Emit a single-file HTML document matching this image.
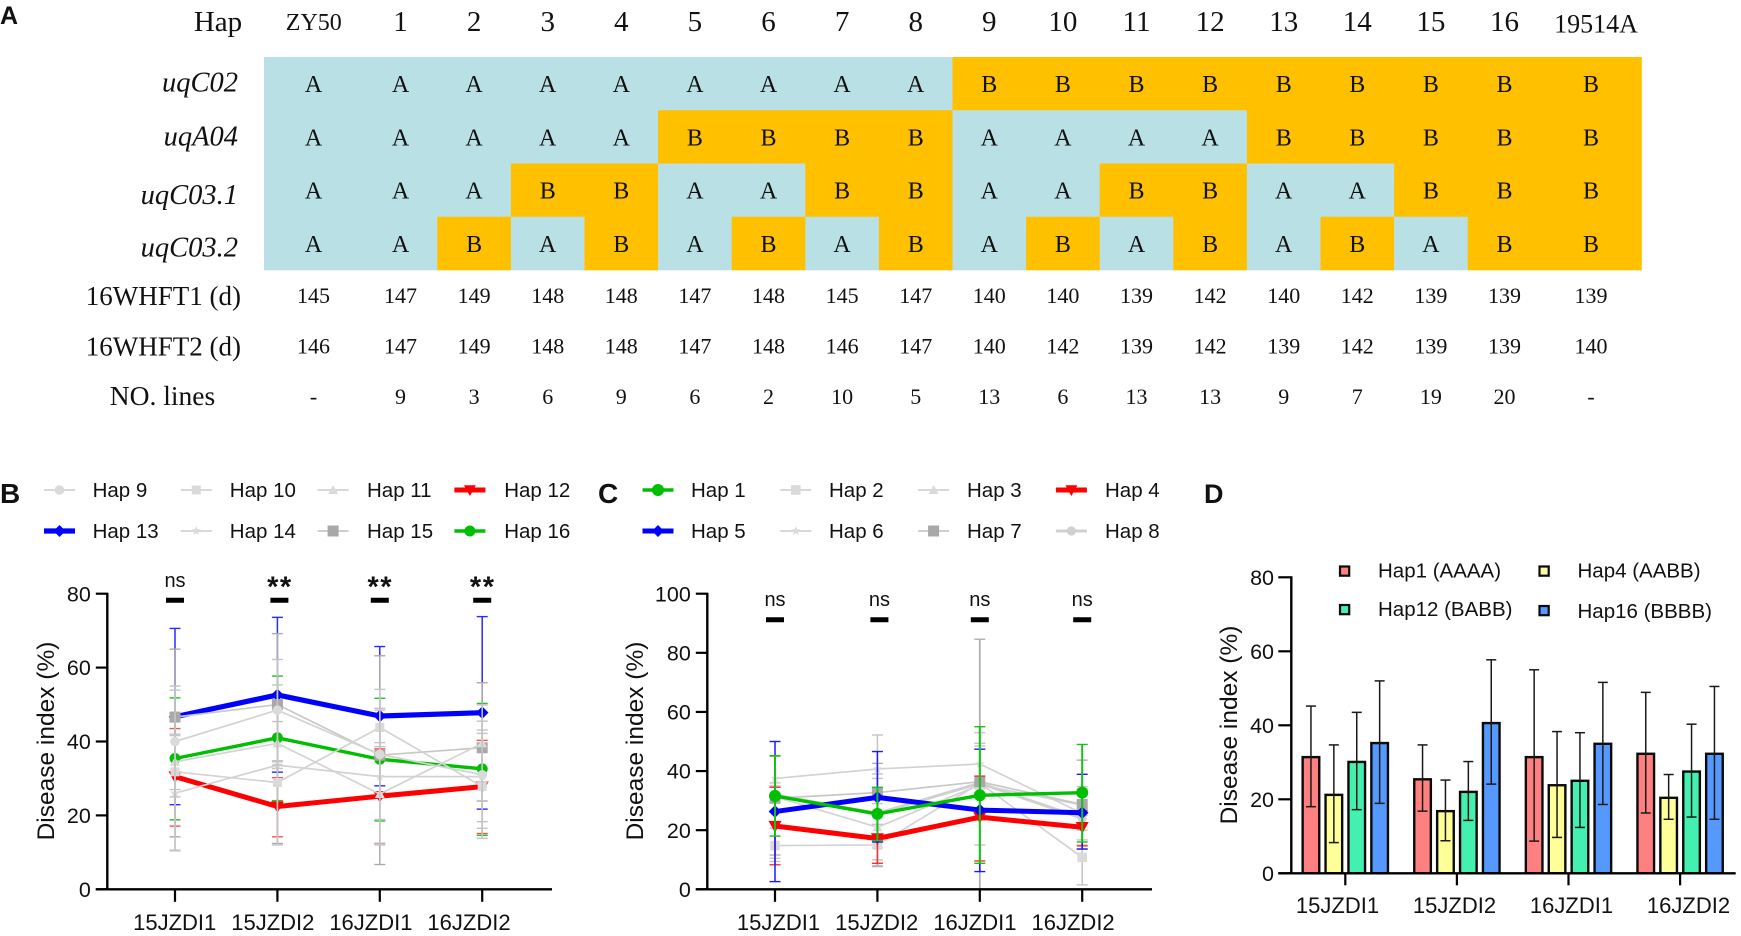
<!DOCTYPE html>
<html lang="en">
<head>
<meta charset="utf-8">
<title>Haplotype disease index figure</title>
<style>
html,body{margin:0;padding:0;background:#fff;}
svg{display:block;}
.sans{font-family:"Liberation Sans",Arial,sans-serif;fill:#111;}
.serif{font-family:"Liberation Serif","Times New Roman",serif;fill:#111;}
</style>
</head>
<body>
<svg id="fig" xmlns="http://www.w3.org/2000/svg" width="1741" height="936" viewBox="0 0 1741 936">
  <rect x="0" y="0" width="1741" height="936" fill="#fff"/>
  <text class="sans" x="0" y="24" font-size="25" font-weight="bold">A</text>
  <text class="sans" x="0" y="503" font-size="28" font-weight="bold">B</text>
  <text class="sans" x="598" y="503" font-size="28" font-weight="bold">C</text>
  <text class="sans" x="1204" y="503" font-size="27" font-weight="bold">D</text>
  <g id="panelA"></g>
  <g id="panelB"></g>
  <g id="panelC"></g>
  <g id="panelD"></g>
</svg>
<script>
// ---------- Panel A data ----------
const hapColumns = ['ZY50','1','2','3','4','5','6','7','8','9','10','11','12','13','14','15','16','19514A'];
const markerNames = ['uqC02','uqA04','uqC03.1','uqC03.2'];
const genotypeC02 = 'AAAAAAAAABBBBBBBBB'.split('');
const genotypeA04 = 'AAAAABBBBAAAABBBBB'.split('');
const genotypeC031 = 'AAABBAABBAABBAABBB'.split('');
const genotypeC032 = 'AABABABABABABABABB'.split('');
const whft1 = ['145','147','149','148','148','147','148','145','147','140','140','139','142','140','142','139','139','139'];
const whft2 = ['146','147','149','148','148','147','148','146','147','140','142','139','142','139','142','139','139','140'];
const lineCounts = ['-','9','3','6','9','6','2','10','5','13','6','13','13','9','7','19','20','-'];

// ---------- Shared ----------
const envLabels = ['15JZDI1','15JZDI2','16JZDI1','16JZDI2'];

// ---------- Panel B data ----------
const bTicks = [0,20,40,60,80];
const bSignificance = ['ns','**','**','**'];
const bHap9Mean = [40,48.5,36.5,31];
const bHap9Up = [55,62.2,54.1,45.5];
const bHap9Low = [25,34.8,18.9,16.5];
const bHap10Mean = [31.8,28.9,43.8,27.8];
const bHap10Up = [53.9,55.3,49,43.1];
const bHap10Low = [10.6,12,38.6,13.8];
const bHap11Mean = [34.5,39.5,25.8,39.5];
const bHap11Up = [42,45.4,39.7,49.9];
const bHap11Low = [27,33.6,12,29];
const bHap12Mean = [30.5,22.4,25.2,27.8];
const bHap12Up = [43.5,30.2,38,40.3];
const bHap12Low = [17.1,14.2,12.4,15.1];
const bHap13Mean = [46.7,52.6,46.9,47.8];
const bHap13Up = [70.6,73.6,65.7,73.8];
const bHap13Low = [22.9,31.7,28,21.7];
const bHap14Mean = [26,33.6,30.5,30.5];
const bHap14Up = [41.6,34.5,48.5,42.2];
const bHap14Low = [10.4,32.7,12.5,18.3];
const bHap15Mean = [46.6,50,36.3,38.3];
const bHap15Up = [65,69.2,63.2,55.9];
const bHap15Low = [14.2,12.4,6.7,23.9];
const bHap16Mean = [35.4,41,35.2,32.6];
const bHap16Up = [51.8,57.7,51.7,50.3];
const bHap16Low = [18.8,24,18.5,14.6];

// ---------- Panel C data ----------
const cTicks = [0,20,40,60,80,100];
const cSignificance = ['ns','ns','ns','ns'];
const cHap1Mean = [31.6,25.5,31.8,32.7];
const cHap1Up = [45.2,34.5,55,49];
const cHap1Low = [18,16.5,8.8,16];
const cHap2Mean = [14.8,15,35.9,10.8];
const cHap2Up = [20.7,22,48.5,20];
const cHap2Low = [9.4,8,23.3,1.5];
const cHap3Mean = [31.3,21,35.3,28.5];
const cHap3Up = [36,39,36.2,32];
const cHap3Low = [26,10,34,25];
const cHap4Mean = [21.4,17.2,24.4,21];
const cHap4Up = [34.5,25.5,38.3,26.6];
const cHap4Low = [8.3,8.8,9.6,14.7];
const cHap5Mean = [26.3,31.1,26.8,25.9];
const cHap5Up = [50,46.6,47.4,38.9];
const cHap5Low = [2.6,16,6,13.6];
const cHap6Mean = [37.5,40.7,42.4,25.7];
const cHap6Up = [45,52.2,53,34.7];
const cHap6Low = [30,29,31,16.7];
const cHap7Mean = [30.8,32.7,36.4,28.7];
const cHap7Up = [45,42.6,84.6,43.7];
const cHap7Low = [11.6,7.7,0,13.7];
const cHap8Mean = [31.9,25.7,35.9,24];
const cHap8Up = [35,37.5,49.4,34];
const cHap8Low = [10.5,14,15,15];

// ---------- Panel D data ----------
const dTicks = [0,20,40,60,80];
const dLegendLabels = ['Hap1 (AAAA)','Hap4 (AABB)','Hap12 (BABB)','Hap16 (BBBB)'];
const dHap1Mean = [31.4,25.4,31.4,32.3];
const dHap1Up = [45.2,34.7,55,48.9];
const dHap1Low = [18,16.8,8.7,16.3];
const dHap4Mean = [21.2,16.8,23.8,20.4];
const dHap4Up = [34.7,25.2,38.3,26.7];
const dHap4Low = [8.3,8.8,9.7,14.6];
const dHap12Mean = [30.1,22,25,27.5];
const dHap12Up = [43.5,30.2,38,40.3];
const dHap12Low = [17.2,14.3,12.4,15.2];
const dHap16Mean = [35.2,40.6,35,32.3];
const dHap16Up = [52,57.7,51.6,50.5];
const dHap16Low = [18.9,24.1,18.6,14.6];

// ---------- Helpers ----------
const NS = 'http://www.w3.org/2000/svg';
function mk(parent, tag, name, attrs, txt) {
  const el = document.createElementNS(NS, tag);
  
  
  for (const k in attrs) el.setAttribute(k, attrs[k]);
  if (txt !== undefined) el.textContent = txt;
  parent.appendChild(el);
  return el;
}
function serifText(p, name, x, y, size, txt, anchor, italic) {
  return mk(p, 'text', name, {class:'serif', x:x, y:y, 'font-size':size, 'text-anchor':anchor||'middle', 'font-style':italic?'italic':'normal'}, txt);
}
function sansText(p, name, x, y, size, txt, anchor, extra) {
  const a = Object.assign({class:'sans', x:x, y:y, 'font-size':size, 'text-anchor':anchor||'middle'}, extra||{});
  return mk(p, 'text', name, a, txt);
}
function line(p, name, x1, y1, x2, y2, color, w) {
  return mk(p, 'line', name, {x1:x1, y1:y1, x2:x2, y2:y2, stroke:color, 'stroke-width':w});
}
function slug(s){ return s.toLowerCase().replace(/[^a-z0-9]+/g,'-').replace(/-$/,''); }

// ---------- Panel A ----------
(function(){
  const g = document.getElementById('panelA');
  const TEAL = '#B9E0E4', AMBER = '#FFC000';
  const colW = 73.6, col1Left = 363.7, tableL = 264, tableR = 1641.5, top = 57, rowH = 53.25;
  const left = i => i === 0 ? tableL : col1Left + (i-1)*colW;
  const right = i => i === hapColumns.length-1 ? tableR : col1Left + i*colW;
  const cx = i => i === 0 ? 313.5 : (i === hapColumns.length-1 ? 1591 : col1Left + (i-0.5)*colW);
  const genotypes = [genotypeC02, genotypeA04, genotypeC031, genotypeC032];
  const labelBase = [91.7,145.7,204,256.7];

  serifText(g, 'hap-header', 218, 31, 29, 'Hap', 'middle');
  hapColumns.forEach((h,i)=>{
    if (i === 0) serifText(g, 'column-header-zy50', 313.8, 30, 24, h);
    else if (i === hapColumns.length-1) serifText(g, 'column-header-19514a', 1596, 32.5, 26, h);
    else serifText(g, 'column-header-'+h, cx(i), 31, 29, h);
  });
  genotypes.forEach((row,r)=>{
    const y = top + r*rowH;
    serifText(g, 'marker-label-'+slug(markerNames[r]), 238, labelBase[r], 28.5, markerNames[r], 'end', true);
    row.forEach((v,i)=>{
      const x = left(i);
      mk(g, 'rect', 'cell-'+slug(markerNames[r])+'-'+i, {x:x, y:y, width:right(i)-x+0.3, height:rowH+0.3, fill: v==='A'?TEAL:AMBER});
    });
  });
  genotypes.forEach((row,r)=>{
    row.forEach((v,i)=>{
      serifText(g, 'allele-'+slug(markerNames[r])+'-'+i, cx(i), 92.2 + r*rowH, 24, v);
    });
  });
  serifText(g, 'row-label-16whft1', 241, 305, 27, '16WHFT1 (d)', 'end');
  serifText(g, 'row-label-16whft2', 241, 355.7, 27, '16WHFT2 (d)', 'end');
  serifText(g, 'row-label-no-lines', 162.5, 405, 27.5, 'NO. lines', 'middle');
  hapColumns.forEach((h,i)=>{
    serifText(g, 'whft1-value-'+i, cx(i), 303, 22, whft1[i]);
    serifText(g, 'whft2-value-'+i, cx(i), 353.5, 22, whft2[i]);
    serifText(g, 'line-count-'+i, cx(i), 404, 22, lineCounts[i]);
  });
})();

// ---------- Markers ----------
function drawMarker(p, name, shape, x, y, s, fill) {
  if (shape === 'circle') return mk(p,'circle',name,{cx:x,cy:y,r:s,fill:fill});
  let d = '';
  if (shape === 'square') d = `M${x-s} ${y-s}H${x+s}V${y+s}H${x-s}Z`;
  if (shape === 'triangle') d = `M${x} ${y-s}L${x+s} ${y+s*0.8}H${x-s}Z`;
  if (shape === 'triangleDown') d = `M${x-s} ${y-s*0.8}H${x+s}L${x} ${y+s}Z`;
  if (shape === 'diamond') d = `M${x} ${y-s}L${x+s} ${y}L${x} ${y+s}L${x-s} ${y}Z`;
  if (shape === 'star') {
    for (let k=0;k<10;k++){
      const r = k%2 ? s*0.42 : s;
      const a = -Math.PI/2 + k*Math.PI/5;
      d += (k?'L':'M') + (x+r*Math.cos(a)).toFixed(2) + ' ' + (y+r*Math.sin(a)).toFixed(2);
    }
    d += 'Z';
  }
  return mk(p,'path',name,{d:d,fill:fill});
}

// ---------- Line charts ----------
function lineChart(cfg) {
  const g = cfg.g;
  const xS = i => cfg.x0 + i*cfg.dx;
  const yS = v => cfg.y0 - v*(cfg.y0-cfg.yTop)/cfg.yMax;
  const labelX = i => cfg.lab0 + i*cfg.labDx;
  const AX = '#000';
  // series
  cfg.series.forEach(s=>{
    const sg = mk(g,'g','series-'+slug(s.name),{});
    s.mean.forEach((m,i)=>{
      const x = xS(i);
      line(sg,'error-bar-'+i,x,yS(s.up[i]),x,yS(s.low[i]),s.err,s.errW||1.5);
      line(sg,'error-cap-top-'+i,x-5.5,yS(s.up[i]),x+5.5,yS(s.up[i]),s.err,1.4);
      line(sg,'error-cap-bottom-'+i,x-5.5,yS(s.low[i]),x+5.5,yS(s.low[i]),s.err,1.4);
    });
    mk(sg,'polyline','mean-line',{points:s.mean.map((m,i)=>xS(i)+','+yS(m)).join(' '),fill:'none',stroke:s.color,'stroke-width':s.w,'stroke-linejoin':'round'});
    s.mean.forEach((m,i)=>{
      drawMarker(sg,'marker-'+i,s.shape,xS(i),yS(m),s.size,s.fill||s.color);
    });
  });
  // axes
  line(g,'y-axis',cfg.axX,cfg.yTop-1,cfg.axX,cfg.y0+1,AX,2.4);
  line(g,'x-axis',cfg.axX-11.5,cfg.y0,cfg.xEnd,cfg.y0,AX,2.4);
  cfg.ticks.forEach(t=>{
    line(g,'y-tick-'+t,cfg.axX-11.5,yS(t),cfg.axX,yS(t),AX,2.2);
    sansText(g,'y-tick-label-'+t,cfg.axX-16.5,yS(t)+7.6,21.5,String(t),'end');
  });
  envLabels.forEach((l,i)=>{
    line(g,'x-tick-'+slug(l),xS(i),cfg.y0,xS(i),cfg.y0+12.5,AX,2.2);
    sansText(g,'x-tick-label-'+slug(l),labelX(i),930,22,l);
  });
  const ly = 741;
  sansText(g,'y-axis-title',cfg.titleX,ly,24.5,'Disease index (%)','middle',{transform:`rotate(-90 ${cfg.titleX} ${ly})`});
  // significance
  cfg.sig.forEach((s,i)=>{
    const cx = xS(i)+(i===1?2:0);
    line(g,'significance-bar-'+i,cx-9,cfg.sigBarY,cx+9,cfg.sigBarY,'#000',5);
    if (s === 'ns') sansText(g,'significance-label-'+i,cx,cfg.sigBarY-13.5,20,s);
    else sansText(g,'significance-label-'+i,cx+0.5,cfg.sigBarY-4,29,s,'middle',{'font-weight':'bold','letter-spacing':'1.5'});
  });
  // legend
  cfg.legend.forEach((s,idx)=>{
    const col = idx%4, row = Math.floor(idx/4);
    const y = row===0 ? 490 : 531;
    const lx = cfg.legLine + col*cfg.legLineDx;
    const lg = mk(g,'g','legend-entry-'+slug(s.name),{});
    line(lg,'legend-line',lx,y,lx+31,y,s.color,s.w);
    drawMarker(lg,'legend-marker',s.shape,lx+15.5,y,Math.min(s.size,6),s.fill||s.color);
    sansText(lg,'legend-label',cfg.legText+col*cfg.legTextDx,y+7,20.5,s.name,'start');
  });
}

const LIGHT = '#D3D3D3', MARK = '#DADADA', ERR = '#C4C4C4', DARK = '#A8A8A8', ERRD = '#ABABAB';
const bStyle = {
  h9:{name:'Hap 9',color:LIGHT,fill:MARK,err:ERR,w:1.7,shape:'circle',size:4.8},
  h10:{name:'Hap 10',color:LIGHT,fill:MARK,err:ERR,w:1.7,shape:'square',size:4.5},
  h11:{name:'Hap 11',color:LIGHT,fill:MARK,err:ERR,w:1.7,shape:'triangle',size:5},
  h12:{name:'Hap 12',color:'#FF0000',err:'#FF5050',w:5,shape:'triangleDown',size:6.5},
  h13:{name:'Hap 13',color:'#0000FF',err:'#2A2AFF',w:5.2,shape:'diamond',size:6.3},
  h14:{name:'Hap 14',color:LIGHT,fill:MARK,err:ERR,w:1.7,shape:'star',size:5},
  h15:{name:'Hap 15',color:'#C8C8C8',fill:DARK,err:ERRD,w:1.7,shape:'square',size:5.5},
  h16:{name:'Hap 16',color:'#00BF00',err:'#22C422',w:3.4,shape:'circle',size:5.5}
};
const bData = {
  h9:[bHap9Mean,bHap9Up,bHap9Low], h10:[bHap10Mean,bHap10Up,bHap10Low], h11:[bHap11Mean,bHap11Up,bHap11Low],
  h12:[bHap12Mean,bHap12Up,bHap12Low], h13:[bHap13Mean,bHap13Up,bHap13Low], h14:[bHap14Mean,bHap14Up,bHap14Low],
  h15:[bHap15Mean,bHap15Up,bHap15Low], h16:[bHap16Mean,bHap16Up,bHap16Low]
};
function buildSeries(styles, data, key){
  return Object.assign({}, styles[key], {mean:data[key][0], up:data[key][1], low:data[key][2]});
}
lineChart({
  g:document.getElementById('panelB'), x0:175, dx:102.4, y0:889.3, yTop:593.7, yMax:80, axX:107.3, xEnd:552,
  lab0:174.7, labDx:98.1, titleX:54, ticks:bTicks, sig:bSignificance, sigBarY:600.3,
  series:['h16','h13','h12','h15','h14','h11','h10','h9'].map(k=>buildSeries(bStyle,bData,k)),
  legend:['h9','h10','h11','h12','h13','h14','h15','h16'].map(k=>buildSeries(bStyle,bData,k)),
  legLine:44, legLineDx:136.8, legText:92.6, legTextDx:137.2
});

const cStyle = {
  h1:{name:'Hap 1',color:'#00BF00',err:'#18C018',errW:2,w:3.4,shape:'circle',size:6},
  h2:{name:'Hap 2',color:LIGHT,fill:MARK,err:ERR,w:1.7,shape:'square',size:4.8},
  h3:{name:'Hap 3',color:LIGHT,fill:MARK,err:ERR,w:1.7,shape:'triangle',size:5},
  h4:{name:'Hap 4',color:'#FF0000',err:'#FF3030',w:5,shape:'triangleDown',size:6.5},
  h5:{name:'Hap 5',color:'#0000FF',err:'#1A1AFF',w:5,shape:'diamond',size:6.3},
  h6:{name:'Hap 6',color:LIGHT,fill:MARK,err:ERR,w:1.7,shape:'star',size:5},
  h7:{name:'Hap 7',color:'#C8C8C8',fill:DARK,err:'#B0B0B0',errW:1.8,w:1.7,shape:'square',size:5.5},
  h8:{name:'Hap 8',color:'#D0D0D0',fill:'#D0D0D0',err:ERR,w:3,shape:'circle',size:4.6}
};
const cData = {
  h1:[cHap1Mean,cHap1Up,cHap1Low], h2:[cHap2Mean,cHap2Up,cHap2Low], h3:[cHap3Mean,cHap3Up,cHap3Low],
  h4:[cHap4Mean,cHap4Up,cHap4Low], h5:[cHap5Mean,cHap5Up,cHap5Low], h6:[cHap6Mean,cHap6Up,cHap6Low],
  h7:[cHap7Mean,cHap7Up,cHap7Low], h8:[cHap8Mean,cHap8Up,cHap8Low]
};
lineChart({
  g:document.getElementById('panelC'), x0:775, dx:102.4, y0:889.3, yTop:593.7, yMax:100, axX:707.3, xEnd:1152,
  lab0:778.5, labDx:98.2, titleX:643, ticks:cTicks, sig:cSignificance, sigBarY:619.7,
  series:['h6','h3','h8','h2','h7','h4','h5','h1'].map(k=>buildSeries(cStyle,cData,k)),
  legend:['h1','h2','h3','h4','h5','h6','h7','h8'].map(k=>buildSeries(cStyle,cData,k)),
  legLine:642.5, legLineDx:137.8, legText:691, legTextDx:138
});

// ---------- Panel D ----------
(function(){
  const g = document.getElementById('panelD');
  const axX = 1291.3, y0 = 873.3, yTop = 577.3, yMax = 80;
  const yS = v => y0 - v*(y0-yTop)/yMax;
  const xS = i => 1345.3 + i*111.6;
  const labelX = i => 1337.5 + i*117;
  const fills = ['#FF8080','#FFFF99','#44F0B0','#5599FF'];
  const means = [dHap1Mean,dHap4Mean,dHap12Mean,dHap16Mean];
  const ups = [dHap1Up,dHap4Up,dHap12Up,dHap16Up];
  const lows = [dHap1Low,dHap4Low,dHap12Low,dHap16Low];
  const barStep = 22.9, barW = 16.6;
  means.forEach((arr,s)=>{
    arr.forEach((v,i)=>{
      const cx = xS(i) + (s-1.5)*barStep;
      mk(g,'rect','bar-'+slug(dLegendLabels[s])+'-'+slug(envLabels[i]),{x:cx-barW/2,y:yS(v),width:barW,height:y0-yS(v),fill:fills[s],stroke:'#0a0a0a','stroke-width':2.4});
      line(g,'error-bar-'+s+'-'+i,cx,yS(ups[s][i]),cx,yS(lows[s][i]),'#1a1a1a',1.5);
      line(g,'error-cap-top-'+s+'-'+i,cx-5,yS(ups[s][i]),cx+5,yS(ups[s][i]),'#1a1a1a',1.5);
      line(g,'error-cap-bottom-'+s+'-'+i,cx-5,yS(lows[s][i]),cx+5,yS(lows[s][i]),'#1a1a1a',1.5);
    });
  });
  line(g,'y-axis',axX,yTop-1,axX,y0+1,'#000',2.4);
  line(g,'x-axis',axX-13,y0,1735.7,y0,'#000',2.4);
  dTicks.forEach(t=>{
    line(g,'y-tick-'+t,axX-13,yS(t),axX,yS(t),'#000',2.2);
    sansText(g,'y-tick-label-'+t,1274,yS(t)+7.6,21.5,String(t),'end');
  });
  envLabels.forEach((l,i)=>{
    line(g,'x-tick-'+slug(l),xS(i),y0,xS(i),y0+12,'#000',2.2);
    sansText(g,'x-tick-label-'+slug(l),labelX(i),913,22,l);
  });
  sansText(g,'y-axis-title',1237,725,24.5,'Disease index (%)','middle',{transform:'rotate(-90 1237 725)'});
  const order = [0,1,2,3];
  order.forEach(k=>{
    const col = k%2, row = Math.floor(k/2);
    const lg = mk(g,'g','legend-entry-'+slug(dLegendLabels[k]),{});
    const sy = 571 + row*(38.5 + col*1);
    mk(lg,'rect','legend-swatch',{x:1340+col*199.5,y:sy-4.5,width:9.2,height:9.2,fill:fills[k],stroke:'#0a0a0a','stroke-width':2.2});
    sansText(lg,'legend-label',1378+col*199.5,577.3+row*(38.5+col*2),20.5,dLegendLabels[k],'start');
  });
})();
</script>
</body>
</html>
